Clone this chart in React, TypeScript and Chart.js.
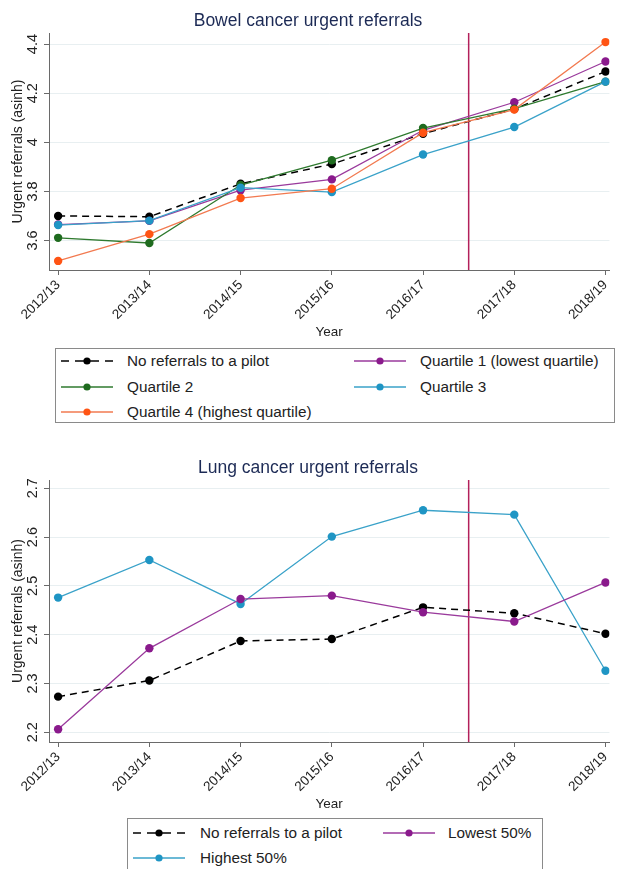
import React, { useEffect, useRef } from "react";
import { Chart, registerables } from "chart.js";

Chart.register(...registerables);

const FONT = "'Liberation Sans', Arial, Helvetica, sans-serif";

const years = ["2012/13", "2013/14", "2014/15", "2015/16", "2016/17", "2017/18", "2018/19"];

// Bowel cancer urgent referrals (asinh)
const bowelNoPilot = [3.700, 3.697, 3.831, 3.911, 4.035, 4.135, 4.288];
const bowelQ1 = [3.665, 3.680, 3.805, 3.849, 4.049, 4.163, 4.329];
const bowelQ2 = [3.611, 3.590, 3.826, 3.927, 4.058, 4.137, 4.247];
const bowelQ3 = [3.663, 3.681, 3.815, 3.797, 3.950, 4.062, 4.247];
const bowelQ4 = [3.517, 3.626, 3.773, 3.811, 4.039, 4.133, 4.408];
const bowelTicks = [3.6, 3.8, 4.0, 4.2, 4.4];
const bowelRange = [3.48, 4.445];

// Lung cancer urgent referrals (asinh)
const lungNoPilot = [2.273, 2.306, 2.387, 2.391, 2.456, 2.444, 2.402];
const lungLowest = [2.206, 2.372, 2.473, 2.480, 2.446, 2.427, 2.507];
const lungHighest = [2.476, 2.553, 2.463, 2.601, 2.655, 2.646, 2.326];
const lungTicks = [2.2, 2.3, 2.4, 2.5, 2.6, 2.7];
const lungRange = [2.18, 2.717];

// policy line sits between 2016/17 (index 4) and 2017/18 (index 5)
const policyLineX = 4.5;

const C = {
  black: "#000000",
  purple: "#8a1a8c",
  purpleLine: "#9a3a9c",
  green: "#1f6b1f",
  greenLine: "#2f7a2f",
  blue: "#1f95c4",
  blueLine: "#3aa2c9",
  orange: "#ff5414",
  orangeLine: "#f27a50",
  red: "#b3205a",
  title: "#1c2a55",
  axis: "#6a6a6a",
  grid: "#e8eff1",
  text: "#222222",
};

type Series = {
  label: string;
  data: number[];
  line: string;
  point: string;
  dash?: boolean;
  order: number;
};

function buildConfig(opts: {
  title: string;
  series: Series[];
  ticks: number[];
  range: number[];
  xHeight: number;
  titlePad: { top: number; bottom: number };
  yearPadBottom: number;
}): any {
  const datasets: any[] = opts.series.map((s) => ({
    label: s.label,
    data: s.data.map((v, i) => ({ x: i, y: v })),
    borderColor: s.line,
    backgroundColor: s.point,
    pointBackgroundColor: s.point,
    pointBorderWidth: 0,
    pointRadius: 4.2,
    borderWidth: s.dash ? 1.5 : 1.3,
    borderDash: s.dash ? [7, 5] : [],
    order: s.order,
    tension: 0,
  }));
  datasets.push({
    label: "policy",
    data: [
      { x: policyLineX, y: opts.range[0] },
      { x: policyLineX, y: opts.range[1] },
    ],
    borderColor: C.red,
    borderWidth: 1.5,
    pointRadius: 0,
    order: 20,
  });

  return {
    type: "line",
    data: { datasets },
    options: {
      responsive: false,
      animation: false,
      layout: { padding: { left: 0, right: 3, top: 0, bottom: 0 } },
      plugins: {
        legend: { display: false },
        tooltip: { enabled: false },
        title: {
          display: true,
          text: opts.title,
          color: C.title,
          font: { family: FONT, size: 17.5, weight: "normal" },
          padding: opts.titlePad,
        },
      },
      scales: {
        x: {
          type: "linear",
          min: -0.1,
          max: 6.043,
          afterBuildTicks: (s: any) => {
            s.ticks = years.map((_, i) => ({ value: i }));
          },
          afterFit: (s: any) => {
            s.height = opts.xHeight;
          },
          ticks: {
            autoSkip: false,
            minRotation: 45,
            maxRotation: 45,
            padding: 2,
            color: C.text,
            font: { family: FONT, size: 13.5 },
            callback: (v: any) => years[Math.round(v)] ?? "",
          },
          grid: { drawOnChartArea: false, tickLength: 5, color: C.axis },
          border: { color: C.axis, width: 1 },
          title: {
            display: true,
            text: "Year",
            color: C.text,
            font: { family: FONT, size: 13.5 },
            padding: { top: 0, bottom: opts.yearPadBottom },
          },
        },
        y: {
          type: "linear",
          min: opts.range[0],
          max: opts.range[1],
          afterBuildTicks: (s: any) => {
            s.ticks = opts.ticks.map((v) => ({ value: v }));
          },
          afterFit: (s: any) => {
            s.width = 49;
          },
          ticks: {
            minRotation: 90,
            maxRotation: 90,
            crossAlign: "center",
            padding: 1,
            color: C.text,
            font: { family: FONT, size: 14.5 },
            callback: (v: any) => String(Number(Number(v).toFixed(1))),
          },
          grid: { color: C.grid, tickColor: C.axis, tickLength: 5, lineWidth: 1 },
          border: { color: C.axis, width: 1 },
          title: {
            display: true,
            text: "Urgent referrals (asinh)",
            color: C.text,
            font: { family: FONT, size: 14 },
            padding: { top: 9.5, bottom: 0 },
          },
        },
      },
    },
  };
}

function ChartCanvas(props: { config: any; width: number; height: number; top: number }) {
  const ref = useRef<HTMLCanvasElement | null>(null);
  useEffect(() => {
    if (!ref.current) return;
    const chart = new Chart(ref.current, props.config);
    return () => chart.destroy();
  }, []);
  return (
    <canvas
      ref={ref}
      width={props.width}
      height={props.height}
      style={{ position: "absolute", left: 0, top: props.top, width: props.width, height: props.height }}
    />
  );
}

type LegendItem = { label: string; line: string; point: string; dash?: boolean; col: number; row: number };

function Symbol(props: { line: string; point: string; dash?: boolean }) {
  return (
    <svg width={52} height={10} style={{ display: "block" }}>
      {props.dash ? (
        <g stroke={props.line} strokeWidth={1.5}>
          <line x1={0} y1={5} x2={8} y2={5} />
          <line x1={14} y1={5} x2={38} y2={5} />
          <line x1={44} y1={5} x2={52} y2={5} />
        </g>
      ) : (
        <line x1={0} y1={5} x2={52} y2={5} stroke={props.line} strokeWidth={1.3} />
      )}
      <circle cx={26} cy={5} r={3.6} fill={props.point} />
    </svg>
  );
}

function Legend(props: {
  left: number;
  top: number;
  width: number;
  height: number;
  rowY: number[];
  colSym: number[];
  colText: number[];
  items: LegendItem[];
}) {
  return (
    <div
      style={{
        position: "absolute",
        left: props.left,
        top: props.top,
        width: props.width,
        height: props.height,
        border: "1px solid #8a8a8a",
        boxSizing: "border-box",
        background: "#fff",
      }}
    >
      {props.items.map((it, k) => (
        <React.Fragment key={k}>
          <div
            style={{
              position: "absolute",
              left: props.colSym[it.col] - props.left - 1,
              top: props.rowY[it.row] - props.top - 1 - 5,
            }}
          >
            <Symbol line={it.line} point={it.point} dash={it.dash} />
          </div>
          <div
            style={{
              position: "absolute",
              left: props.colText[it.col] - props.left - 1,
              top: props.rowY[it.row] - props.top - 1 - 10,
              height: 20,
              lineHeight: "20px",
              fontFamily: FONT,
              fontSize: 15.3,
              color: C.text,
              whiteSpace: "nowrap",
            }}
          >
            {it.label}
          </div>
        </React.Fragment>
      ))}
    </div>
  );
}

const bowelSeries: Series[] = [
  { label: "No referrals to a pilot", data: bowelNoPilot, line: C.black, point: C.black, dash: true, order: 6 },
  { label: "Quartile 1 (lowest quartile)", data: bowelQ1, line: C.purpleLine, point: C.purple, order: 5 },
  { label: "Quartile 2", data: bowelQ2, line: C.greenLine, point: C.green, order: 4 },
  { label: "Quartile 3", data: bowelQ3, line: C.blueLine, point: C.blue, order: 3 },
  { label: "Quartile 4 (highest quartile)", data: bowelQ4, line: C.orangeLine, point: C.orange, order: 2 },
];

const lungSeries: Series[] = [
  { label: "No referrals to a pilot", data: lungNoPilot, line: C.black, point: C.black, dash: true, order: 5 },
  { label: "Lowest 50%", data: lungLowest, line: C.purpleLine, point: C.purple, order: 4 },
  { label: "Highest 50%", data: lungHighest, line: C.blueLine, point: C.blue, order: 6 },
];

export default function App() {
  const topConfig = buildConfig({
    title: "Bowel cancer urgent referrals",
    series: bowelSeries,
    ticks: bowelTicks,
    range: bowelRange,
    xHeight: 75,
    titlePad: { top: 10.5, bottom: 1.5 },
    yearPadBottom: 4.9,
  });
  const bottomConfig = buildConfig({
    title: "Lung cancer urgent referrals",
    series: lungSeries,
    ticks: lungTicks,
    range: lungRange,
    xHeight: 73,
    titlePad: { top: 17.5, bottom: 1.5 },
    yearPadBottom: 2.9,
  });

  const topItems: LegendItem[] = [
    { label: bowelSeries[0].label, line: C.black, point: C.black, dash: true, col: 0, row: 0 },
    { label: bowelSeries[1].label, line: C.purpleLine, point: C.purple, col: 1, row: 0 },
    { label: bowelSeries[2].label, line: C.greenLine, point: C.green, col: 0, row: 1 },
    { label: bowelSeries[3].label, line: C.blueLine, point: C.blue, col: 1, row: 1 },
    { label: bowelSeries[4].label, line: C.orangeLine, point: C.orange, col: 0, row: 2 },
  ];
  const bottomItems: LegendItem[] = [
    { label: lungSeries[0].label, line: C.black, point: C.black, dash: true, col: 0, row: 0 },
    { label: lungSeries[1].label, line: C.purpleLine, point: C.purple, col: 1, row: 0 },
    { label: lungSeries[2].label, line: C.blueLine, point: C.blue, col: 0, row: 1 },
  ];

  return (
    <div
      style={{
        position: "absolute",
        left: 0,
        top: 0,
        width: 619,
        height: 869,
        overflow: "hidden",
        background: "#fff",
      }}
    >
      <ChartCanvas config={topConfig} width={619} height={345} top={0} />
      <Legend
        left={55}
        top={348}
        width={560}
        height={75}
        rowY={[361, 387, 412]}
        colSym={[61, 354]}
        colText={[127, 420]}
        items={topItems}
      />
      <ChartCanvas config={bottomConfig} width={619} height={375} top={440} />
      <Legend
        left={127}
        top={818}
        width={416}
        height={70}
        rowY={[833, 858]}
        colSym={[133, 383]}
        colText={[200, 448]}
        items={bottomItems}
      />
    </div>
  );
}
